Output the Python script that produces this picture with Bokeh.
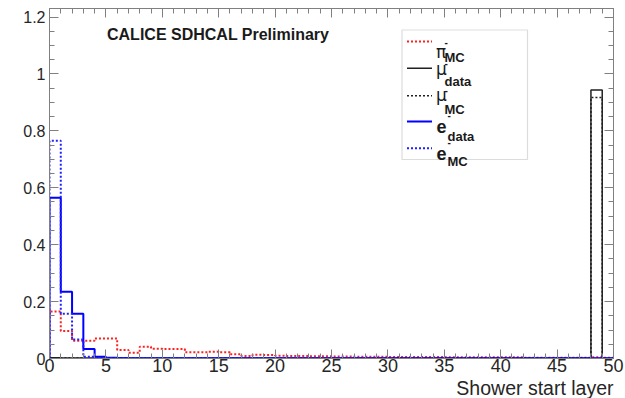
import numpy as np
from bokeh.plotting import figure
from bokeh.models import (LinearAxis, SingleIntervalTicker, CustomJSTickFormatter,
                          Label, BoxAnnotation, Range1d, Title)
from bokeh.embed import file_html
from bokeh.resources import INLINE

# ---------------- data (bin contents, bins of width 1 from 0 to 50) ----------------
bin_edges = list(range(0, 51))
pi_mc = [0.165, 0.097, 0.062, 0.062, 0.070, 0.070, 0.030, 0.020, 0.041, 0.034,
         0.033, 0.033, 0.022, 0.022, 0.024, 0.022, 0.015, 0.009, 0.013, 0.012,
         0.010, 0.009, 0.009, 0.008, 0.008, 0.007, 0.007, 0.006, 0.006, 0.006,
         0.005, 0.005, 0.005, 0.005, 0.005, 0.004, 0.004, 0.004, 0.004, 0.004,
         0.004, 0.004, 0.003, 0.003, 0.003, 0.003, 0.003, 0.003, 0.004, 0.003]
mu_data = [0.003, 0.002, 0.002, 0.002, 0.001, 0.001, 0.001, 0.001, 0.001, 0.001,
           0.001, 0.001, 0.001, 0.001, 0.001, 0.001, 0.001, 0.001, 0.001, 0.001,
           0.001, 0.001, 0.001, 0.001, 0.001, 0.001, 0.001, 0.001, 0.001, 0.001,
           0.001, 0.001, 0.001, 0.001, 0.001, 0.001, 0.001, 0.001, 0.001, 0.001,
           0.001, 0.001, 0.001, 0.001, 0.001, 0.001, 0.001, 0.001, 0.944, 0.0]
mu_mc = [0.003, 0.002, 0.002, 0.001, 0.001, 0.001, 0.001, 0.001, 0.001, 0.001,
         0.001, 0.001, 0.001, 0.001, 0.001, 0.001, 0.001, 0.001, 0.001, 0.001,
         0.001, 0.001, 0.001, 0.001, 0.001, 0.001, 0.001, 0.001, 0.001, 0.001,
         0.001, 0.001, 0.001, 0.001, 0.001, 0.001, 0.001, 0.001, 0.001, 0.001,
         0.001, 0.001, 0.001, 0.001, 0.001, 0.001, 0.001, 0.001, 0.917, 0.0]
e_data = [0.565, 0.235, 0.157, 0.033, 0.006, 0.003, 0.002, 0.001, 0.001, 0.001,
          0.001, 0.001, 0.001, 0.001, 0.001, 0.001, 0.001, 0.001, 0.001, 0.001,
          0.001, 0.001, 0.001, 0.001, 0.001, 0.001, 0.001, 0.001, 0.001, 0.001,
          0.001, 0.001, 0.001, 0.001, 0.001, 0.001, 0.001, 0.001, 0.001, 0.001,
          0.001, 0.001, 0.001, 0.001, 0.001, 0.001, 0.001, 0.001, 0.001, 0.001]
e_mc = [0.765, 0.157, 0.067, 0.006, 0.002, 0.001, 0.001, 0.001, 0.001, 0.001,
        0.0005, 0.0005, 0.0005, 0.0005, 0.0005, 0.0005, 0.0005, 0.0005, 0.0005, 0.0005,
        0.0005, 0.0005, 0.0005, 0.0005, 0.0005, 0.0005, 0.0005, 0.0005, 0.0005, 0.0005,
        0.0005, 0.0005, 0.0005, 0.0005, 0.0005, 0.0005, 0.0005, 0.0005, 0.0005, 0.0005,
        0.0005, 0.0005, 0.0005, 0.0005, 0.0005, 0.0005, 0.0005, 0.0005, 0.0005, 0.0005]

x_major_ticks = [0, 5, 10, 15, 20, 25, 30, 35, 40, 45, 50]
y_major_ticks = [0, 0.2, 0.4, 0.6, 0.8, 1.0, 1.2]
x_title = "Shower start layer"
chart_label = "CALICE SDHCAL Preliminary"

X_MAX = 50.0
Y_MAX = 1.23
FRAME_W = 564
FRAME_H = 350

FONT = "Liberation Sans"
AX_COL = "#808080"

p = figure(frame_width=FRAME_W, frame_height=FRAME_H,
           x_range=Range1d(0, X_MAX), y_range=Range1d(0, Y_MAX),
           output_backend="svg", toolbar_location=None,
           min_border_left=49, min_border_right=12, min_border_top=8, min_border_bottom=40)
p.grid.visible = False
p.outline_line_color = AX_COL
p.background_fill_color = "white"
p.border_fill_color = "white"

xt = SingleIntervalTicker(interval=5, num_minor_ticks=5)
yt = SingleIntervalTicker(interval=0.2, num_minor_ticks=4)
fmt = CustomJSTickFormatter(code="return Number(tick.toFixed(2)).toString();")
blank_fmt = CustomJSTickFormatter(code="return '';")


def style_axis(ax, show_labels, size="17px"):
    ax.axis_line_color = AX_COL
    ax.major_tick_line_color = AX_COL
    ax.minor_tick_line_color = AX_COL
    ax.major_tick_in = 9
    ax.major_tick_out = 0
    ax.minor_tick_in = 5
    ax.minor_tick_out = 0
    ax.major_label_text_font = FONT
    ax.major_label_text_color = "#262626"
    ax.major_label_text_font_size = size
    if not show_labels:
        ax.formatter = blank_fmt
        ax.major_label_standoff = 0


p.xaxis.ticker = xt
p.yaxis.ticker = yt
p.yaxis.formatter = fmt
style_axis(p.xaxis[0], True, "18px")
style_axis(p.yaxis[0], True, "16px")
p.xaxis.major_label_standoff = 0
p.yaxis.major_label_standoff = 4

top_ax = LinearAxis(ticker=SingleIntervalTicker(interval=5, num_minor_ticks=5))
style_axis(top_ax, False)
p.add_layout(top_ax, "above")
right_ax = LinearAxis(ticker=SingleIntervalTicker(interval=0.2, num_minor_ticks=4))
style_axis(right_ax, False)
p.add_layout(right_ax, "right")

# x-axis title, right aligned at the axis end
p.add_layout(Title(text=x_title, align="right", text_font=FONT, text_font_size="19.5px",
                   text_font_style="normal", text_color="#262626", standoff=0, offset=0),
             "below")


def step_xy(vals):
    edges = np.asarray(bin_edges, dtype=float)
    xs = np.repeat(edges, 2)
    ys = np.concatenate([[0.0], np.repeat(np.asarray(vals, dtype=float), 2), [0.0]])
    return xs, ys


series = [
    (pi_mc, "#ff2020", "2 2", 2),
    (mu_data, "#202020", "solid", 1.5),
    (mu_mc, "#202020", "2 2", 1.5),
    (e_data, "#0000ff", "solid", 2),
    (e_mc, "#2020ff", "2 2", 2),
]
for vals, col, dash, w in series:
    xs, ys = step_xy(vals)
    p.line(xs, ys, line_color=col, line_dash=dash, line_width=w)

# ---------------- text annotations (positions in reference pixel space) ----------------
PX0, PXS = 49.0, FRAME_W / X_MAX
PY0, PYS = 358.0, FRAME_H / Y_MAX


def dx(px):
    return (px - PX0) / PXS


def dy(py):
    return (PY0 - py) / PYS


p.add_layout(Label(x=dx(106.5), y=dy(34), text=chart_label, text_font=FONT,
                   text_font_style="bold", text_font_size="16px", text_color="#1a1a1a",
                   text_baseline="alphabetic"))

# legend box
p.add_layout(BoxAnnotation(left=dx(401.5), right=dx(527), top=dy(29.5), bottom=dy(159),
                           fill_alpha=0.0, line_color="#8c8c8c", line_width=1.2))

leg_line_y = [41, 67.7, 95.3, 121, 147.7]
for (vals, col, dash, w), ly in zip(series, leg_line_y):
    p.line([dx(406.5), dx(431.5)], [dy(ly), dy(ly)], line_color=col,
           line_dash=dash, line_width=w)

GREEK = "DejaVu Sans"
legend_texts = [
    # (text, px, baseline py, size, bold, font)
    ("\u03c0", 435.5, 51, "17px", False, GREEK), ("-", 444, 41, "10px", True, FONT),
    ("MC", 444, 56.5, "13px", True, FONT),
    ("\u03bc", 435.5, 68, "17px", False, GREEK), ("-", 444, 62.5, "10px", True, FONT),
    ("data", 444, 81, "13px", True, FONT),
    ("\u03bc", 435.5, 94.5, "17px", False, GREEK), ("-", 444, 89.5, "10px", True, FONT),
    ("MC", 444, 108.5, "13px", True, FONT),
    ("e", 436, 126, "18px", True, FONT), ("-", 447, 114.5, "10px", True, FONT),
    ("data", 447, 136, "13px", True, FONT),
    ("e", 436, 152.5, "18px", True, FONT), ("-", 447, 141, "10px", True, FONT),
    ("MC", 447, 161, "13px", True, FONT),
]
for t, px_, py_, sz, bold, fnt in legend_texts:
    p.add_layout(Label(x=dx(px_), y=dy(py_), text=t, text_font=fnt, text_font_size=sz,
                       text_font_style="bold" if bold else "normal", text_color="#1a1a1a",
                       text_baseline="alphabetic"))

open("out.html", "w").write(file_html(p, INLINE))
